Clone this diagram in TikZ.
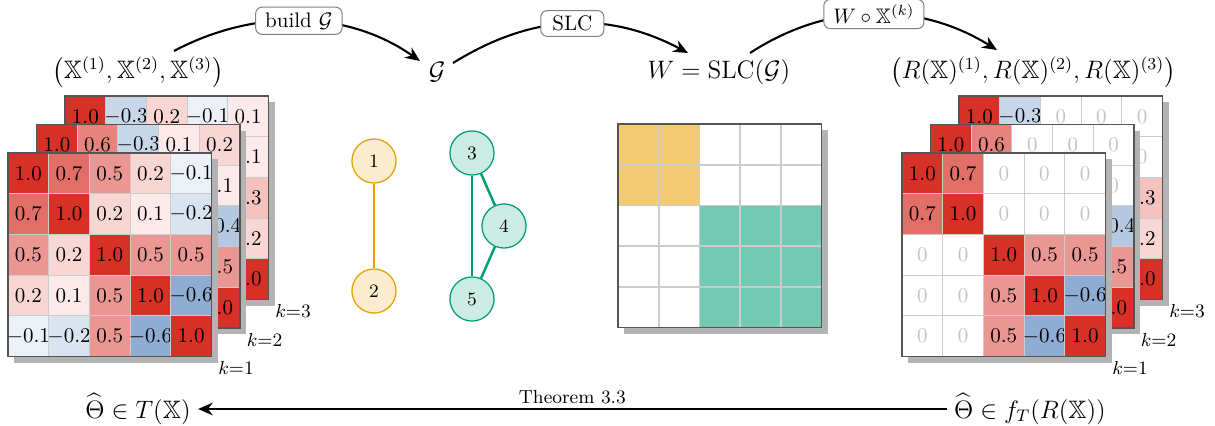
\documentclass[tikz,border=0pt]{standalone}
\usepackage{amsmath,amssymb}
\usetikzlibrary{arrows.meta,calc}

\definecolor{hmred}{RGB}{214,48,39}
\definecolor{hmblue}{RGB}{69,117,180}
\definecolor{gridc}{RGB}{204,204,204}
\definecolor{framec}{RGB}{85,85,85}
\definecolor{shadowc}{RGB}{179,179,179}
\definecolor{zeroc}{RGB}{195,195,195}
\definecolor{cOrange}{RGB}{230,159,0}
\definecolor{cTeal}{RGB}{0,158,115}
\definecolor{boxc}{RGB}{130,130,130}

\newcommand\hmcell{40.7}

% heat map: #1 name, #2 left, #3 top, #4 rows of values
\newcommand\heatmat[4]{%
  \fill[shadowc] (#2+6,#3+6) rectangle ++(5*\hmcell,5*\hmcell);
  \foreach \row [count=\i] in {#4} {
    \foreach \v [count=\j] in \row {
      \pgfmathsetmacro\pct{abs(\v)*100}
      \ifdim\v pt>0pt
        \colorlet{cellfill}{hmred!\pct!white}\colorlet{celltext}{black}
      \else\ifdim\v pt<0pt
        \colorlet{cellfill}{hmblue!\pct!white}\colorlet{celltext}{black}
      \else
        \colorlet{cellfill}{white}\colorlet{celltext}{zeroc}
      \fi\fi
      \filldraw[fill=cellfill,draw=gridc,line width=0.5pt]
        ({#2+(\j-1)*\hmcell},{#3+(\i-1)*\hmcell}) rectangle ++(\hmcell,\hmcell);
      \node[text=celltext,inner sep=0pt] (#1-\i-\j)
        at ({#2+(\j-0.5)*\hmcell},{#3+(\i-0.5)*\hmcell}) {$\v$};
    }
  }
  \draw[framec,line width=0.8pt] (#2,#3) rectangle ++(5*\hmcell,5*\hmcell);
}

\tikzset{
  toplbl/.style={font=\large},
  lbox/.style={draw=boxc,fill=white,rounded corners=3pt,line width=0.5pt,
               inner xsep=4.5pt,inner ysep=2.5pt},
  conn/.style={line width=1pt,-{Stealth[length=7pt,width=6pt]}},
  klbl/.style={font=\small,inner sep=0pt},
  gorange/.style={circle,draw=cOrange,fill=cOrange!20,line width=0.6pt,
                  minimum size=21pt,inner sep=0pt,font=\small},
  gteal/.style={circle,draw=cTeal,fill=cTeal!20,line width=0.6pt,
                minimum size=21pt,inner sep=0pt,font=\small},
}

\begin{document}
\begin{tikzpicture}[x=0.47619pt,y=-0.47619pt]
\useasboundingbox (0,0) rectangle (1215,425);

% ---------- input correlation matrices ----------
\heatmat{L3}{65}{96}{{1.0,-0.3,0.2,-0.1,0.1},{-0.3,1.0,0.1,0.2,0.1},{0.2,0.1,1.0,-0.2,0.3},{-0.1,0.2,-0.2,1.0,0.2},{0.1,0.1,0.3,0.2,1.0}}
\heatmat{L2}{36.5}{124.5}{{1.0,0.6,-0.3,0.1,0.2},{0.6,1.0,0.1,-0.2,0.1},{-0.3,0.1,1.0,0.3,-0.4},{0.1,-0.2,0.3,1.0,0.5},{0.2,0.1,-0.4,0.5,1.0}}
\heatmat{L1}{8}{153}{{1.0,0.7,0.5,0.2,-0.1},{0.7,1.0,0.2,0.1,-0.2},{0.5,0.2,1.0,0.5,0.5},{0.2,0.1,0.5,1.0,-0.6},{-0.1,-0.2,0.5,-0.6,1.0}}
\node[klbl] (kL3) at (293,311) {$k{=}3$};
\node[klbl] (kL2) at (264.5,339.5) {$k{=}2$};
\node[klbl] (kL1) at (236,368) {$k{=}1$};

% ---------- restricted matrices ----------
\heatmat{R3}{959}{96}{{1.0,-0.3,0,0,0},{-0.3,1.0,0,0,0},{0,0,1.0,-0.2,0.3},{0,0,-0.2,1.0,0.2},{0,0,0.3,0.2,1.0}}
\heatmat{R2}{930.5}{124.5}{{1.0,0.6,0,0,0},{0.6,1.0,0,0,0},{0,0,1.0,0.3,-0.4},{0,0,0.3,1.0,0.5},{0,0,-0.4,0.5,1.0}}
\heatmat{R1}{902}{153}{{1.0,0.7,0,0,0},{0.7,1.0,0,0,0},{0,0,1.0,0.5,0.5},{0,0,0.5,1.0,-0.6},{0,0,0.5,-0.6,1.0}}
\node[klbl] (kR3) at (1187,311) {$k{=}3$};
\node[klbl] (kR2) at (1158.5,339.5) {$k{=}2$};
\node[klbl] (kR1) at (1130,368) {$k{=}1$};

% ---------- graph ----------
\node[gorange] (n1) at (374,161) {1};
\node[gorange] (n2) at (374,291) {2};
\node[gteal] (n3) at (472,153) {3};
\node[gteal] (n4) at (504,226) {4};
\node[gteal] (n5) at (472,299) {5};
\draw[cOrange,line width=1.2pt] (n1) -- (n2);
\draw[cTeal,line width=1.2pt] (n3) -- (n5);
\draw[cTeal,line width=1.2pt] (n3) -- (n4);
\draw[cTeal,line width=1.2pt] (n4) -- (n5);

% ---------- block mask W ----------
\fill[shadowc] (624,130) rectangle ++(5*\hmcell,5*\hmcell);
\foreach \i in {1,...,5} {
  \foreach \j in {1,...,5} {
    \ifnum\i<3 \ifnum\j<3 \colorlet{blk}{cOrange!55!white}\else\colorlet{blk}{white}\fi
    \else \ifnum\j>2 \colorlet{blk}{cTeal!55!white}\else\colorlet{blk}{white}\fi\fi
    \filldraw[fill=blk,draw=gridc,line width=0.8pt]
      ({618+(\j-1)*\hmcell},{124+(\i-1)*\hmcell}) rectangle ++(\hmcell,\hmcell);
  }
}
\draw[framec,line width=0.8pt] (618,124) rectangle ++(5*\hmcell,5*\hmcell);

% ---------- top row ----------
\node[toplbl] (lX) at (138,72) {$\bigl(\mathbb{X}^{(1)},\mathbb{X}^{(2)},\mathbb{X}^{(3)}\bigr)$};
\node[toplbl] (lG) at (437,72) {$\mathcal{G}$};
\node[toplbl] (lW) at (719,72) {$W=\mathrm{SLC}(\mathcal{G})$};
\node[toplbl] (lR) at (1033,72) {$\bigl(R(\mathbb{X})^{(1)},R(\mathbb{X})^{(2)},R(\mathbb{X})^{(3)}\bigr)$};

\draw[conn] ($(lX)+(36,-21)$) .. controls +(79,-42) and +(-74,-52) .. ($(lG)+(-17,-11)$)
  node[lbox,pos=0.5] (bBuild) {build $\mathcal{G}$};
\draw[conn] ($(lG)+(16,-9)$) .. controls +(82,-51) and +(-77,-41) .. ($(lW)+(-31,-19)$)
  node[lbox,pos=0.5,inner xsep=5.5pt] (bSLC) {SLC};
\draw[conn] ($(lW)+(31,-19)$) .. controls +(79,-51.5) and +(-78,-48.5) .. ($(lR)+(-36,-22)$)
  node[lbox,pos=0.5] (bMask) {$W\circ\mathbb{X}^{(k)}$};

% ---------- bottom row ----------
\node[toplbl] (tL) at (138,409) {$\widehat{\Theta}\in T(\mathbb{X})$};
\node[toplbl] (tR) at (1030,409) {$\widehat{\Theta}\in f_T(R(\mathbb{X}))$};
\draw[conn] (tR.west) -- (tR.west -| tL.east)
  node[midway,above,font=\small,inner sep=2pt] (thm) {Theorem 3.3};
\end{tikzpicture}
\end{document}
